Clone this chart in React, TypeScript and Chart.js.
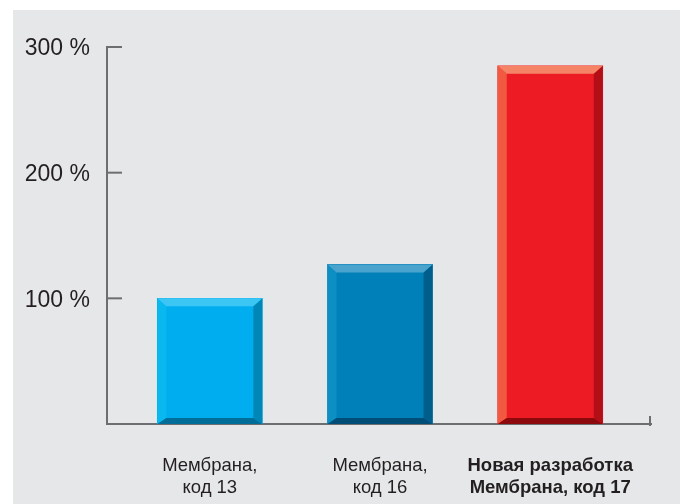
import React, { useEffect, useRef } from "react";
import { Chart, registerables } from "chart.js";

Chart.register(...registerables);

const categories: string[][] = [
  ["Мембрана,", "код 13"],
  ["Мембрана,", "код 16"],
  ["Новая разработка", "Мембрана, код 17"],
];
const positions = [0, 1, 2];
const values = [100, 127, 285];
const yTicks = [100, 200, 300];

const faceColors = ["#00aeef", "#0080b8", "#ed1c24"];
const topColors = ["#3cc6f4", "#4aa3cc", "#f58466"];
const leftColors = ["#0ab8f0", "#0d8fc4", "#f15a40"];
const rightColors = ["#0087b8", "#005e8c", "#b20f16"];
const bottomColors = ["#006e99", "#004d78", "#8c0a0d"];

const AXIS = "#6d6e71";
const TEXT = "#231f20";
const FONT = "'Liberation Sans', Arial, Helvetica, sans-serif";

const bevelPlugin = {
  id: "bevel",
  afterDatasetsDraw(chart: any) {
    const ctx = chart.ctx;
    const meta = chart.getDatasetMeta(0);
    meta.data.forEach((bar: any, i: number) => {
      const p = bar.getProps(["x", "y", "base", "width"], true);
      const l = p.x - p.width / 2;
      const r = p.x + p.width / 2;
      const t = p.y;
      const b = p.base;
      const bt = 8, bs = 9, bb = 6;
      const poly = (pts: number[][], c: string) => {
        ctx.beginPath();
        ctx.moveTo(pts[0][0], pts[0][1]);
        for (let k = 1; k < pts.length; k++) ctx.lineTo(pts[k][0], pts[k][1]);
        ctx.closePath();
        ctx.fillStyle = c;
        ctx.fill();
      };
      ctx.save();
      poly([[l, t], [l + bs, t + bt], [l + bs, b - bb], [l, b]], leftColors[i]);
      poly([[r, t], [r, b], [r - bs, b - bb], [r - bs, t + bt]], rightColors[i]);
      poly([[l, t], [r, t], [r - bs, t + bt], [l + bs, t + bt]], topColors[i]);
      poly([[l, b], [r, b], [r - bs, b - bb], [l + bs, b - bb]], bottomColors[i]);
      ctx.restore();
    });
  },
  afterDraw(chart: any) {
    const ctx = chart.ctx;
    const ys = chart.scales.y;
    const area = chart.chartArea;
    ctx.save();
    ctx.strokeStyle = AXIS;
    ctx.lineWidth = 2;
    yTicks.forEach((v) => {
      const py = ys.getPixelForValue(v);
      ctx.beginPath();
      ctx.moveTo(area.left, py);
      ctx.lineTo(area.left + 15, py);
      ctx.stroke();
    });
    ctx.beginPath();
    ctx.moveTo(area.right - 1, area.bottom + 2);
    ctx.lineTo(area.right - 1, area.bottom - 8);
    ctx.stroke();
    ctx.restore();
  },
};

export default function App() {
  const ref = useRef<HTMLCanvasElement | null>(null);

  useEffect(() => {
    if (!ref.current) return;
    const chart = new Chart(ref.current, {
      type: "bar",
      data: {
        datasets: [
          {
            data: positions.map((x, i) => ({ x, y: values[i] })),
            backgroundColor: faceColors,
            borderWidth: 0,
            barThickness: 105,
          },
        ],
      },
      options: {
        animation: false,
        responsive: false,
        devicePixelRatio: 1,
        layout: { padding: { top: 47, right: 29, left: 0, bottom: 0 } },
        plugins: { legend: { display: false }, tooltip: { enabled: false } },
        scales: {
          x: {
            type: "linear",
            offset: false,
            min: -0.604,
            max: 2.592,
            grid: { display: false, offset: false },
            border: { display: true, color: AXIS, width: 2 },
            afterBuildTicks: (s: any) => {
              s.ticks = positions.map((v) => ({ value: v }));
            },
            afterFit: (s: any) => {
              s.height = 80;
            },
            ticks: {
              autoSkip: false,
              maxRotation: 0,
              minRotation: 0,
              padding: 22.5,
              color: TEXT,
              font: (c: any) => ({
                family: FONT,
                size: 18.5,
                lineHeight: 22 / 18.5,
                weight: c.index === 2 ? "bold" : "normal",
              }),
              callback: (v: any) => categories[positions.indexOf(Number(v))] ?? "",
            },
          },
          y: {
            min: 0,
            max: 300,
            grid: { display: false },
            border: { display: true, color: AXIS, width: 2 },
            afterBuildTicks: (s: any) => {
              s.ticks = yTicks.map((v) => ({ value: v }));
            },
            afterFit: (s: any) => {
              s.width = 107;
            },
            ticks: {
              padding: 9,
              color: TEXT,
              font: { family: FONT, size: 23, lineHeight: 4 / 23 },
              callback: (v: any) => ["", `${v} %`],
            },
          },
        },
      },
      plugins: [bevelPlugin],
    });
    return () => chart.destroy();
  }, []);

  return (
    <div style={{ position: "absolute", left: 0, top: 0, width: 680, height: 504, background: "#ffffff" }}>
      <div style={{ position: "absolute", left: 13, top: 10, right: 0, bottom: 0, background: "#e6e7e8" }} />
      <canvas
        ref={ref}
        width={680}
        height={504}
        style={{ position: "absolute", left: 0, top: 0, width: 680, height: 504 }}
      />
    </div>
  );
}
